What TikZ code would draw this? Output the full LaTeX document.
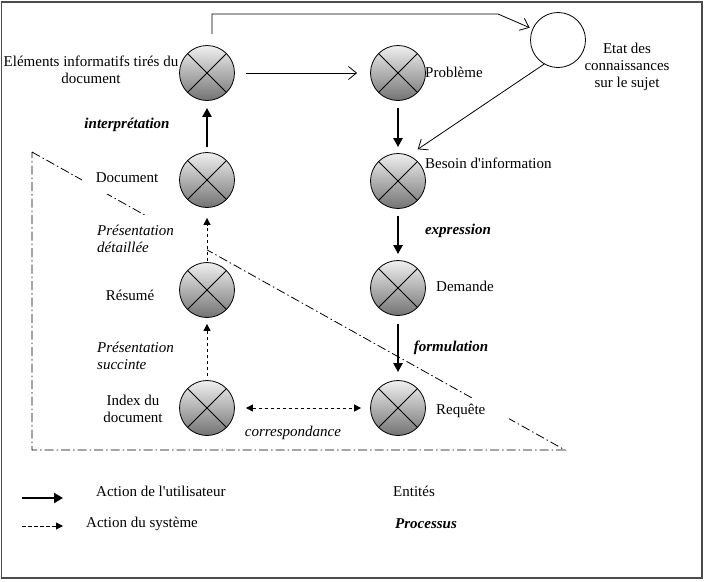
\documentclass[tikz,border=0pt]{standalone}
\usepackage{fontspec}
\setmainfont{Liberation Serif}[Ligatures=TeXOff]
\usetikzlibrary{arrows.meta,shapes.geometric}
\begin{document}
\begin{tikzpicture}[x=1pt,y=-1pt,
  ent/.style={circle,draw,line width=0.8pt,minimum size=55pt,inner sep=0pt,
     top color=white!94!black,bottom color=black!55,
     path picture={\draw[line width=0.8pt]
        (path picture bounding box.north west) -- (path picture bounding box.south east)
        (path picture bounding box.north east) -- (path picture bounding box.south west);}},
  etatc/.style={circle,draw,line width=0.8pt,minimum size=55pt,inner sep=0pt,fill=white},
  txt/.style={font=\fontsize{15}{17}\selectfont,align=center,inner sep=1pt},
  proc/.style={txt,font=\fontsize{15}{17}\selectfont\bfseries\itshape},
  legtxt/.style={font=\fontsize{15}{17}\selectfont,inner sep=0pt,anchor=west},
  userarr/.style={line width=2.6pt,-{Triangle[length=9pt,width=9pt]}},
  sysarr/.style={line width=1pt,dash pattern=on 3.5pt off 2.5pt,-{Triangle[length=7pt,width=7pt]}},
  sysboth/.style={line width=1pt,dash pattern=on 3.5pt off 2.5pt,{Triangle[length=7pt,width=7pt]}-{Triangle[length=7pt,width=7pt]}},
  openarr/.style={line width=0.8pt,-{Straight Barb[length=8pt,width=13pt]}},
  dashdot/.style={line width=0.8pt,dash pattern=on 9pt off 3pt on 1.5pt off 3pt},
  cover/.style={fill=white,inner sep=0pt}
]
\useasboundingbox (0,0) rectangle (706,581);
\draw[line width=1.5pt,black!70] (1.5,2) rectangle (702,578);

% dash-dot triangle
\coordinate (p1) at (32,152);
\coordinate (p2) at (32,450);
\coordinate (p3) at (565,450);
\draw[dashdot] (p1) -- (p3) -- (p2) -- cycle;

% white text backgrounds hiding the dash-dot line
\node[cover,minimum width=90pt,minimum height=32pt] (cdoc) at (127,178) {};
\node[cover,minimum width=112pt,minimum height=46pt] (cpd) at (151,238) {};
\node[cover,minimum width=74pt,minimum height=26pt] (creq) at (472,411) {};

% entities
\node[ent] (elem) at (207,73) {};
\node[ent] (doc) at (207,180) {};
\node[ent] (res) at (207,290) {};
\node[ent] (idx) at (207,408) {};
\node[ent] (prob) at (398,73) {};
\node[ent] (bes) at (398,181) {};
\node[ent] (dem) at (398,288) {};
\node[ent] (req) at (398,408) {};
\node[etatc] (etat) at (558,40) {};

% texts
\node[txt] (telem) at (91,70) {Eléments informatifs tirés du\\document};
\node[txt,anchor=west] (tprob) at (424,72) {Problème};
\node[txt] (tetat) at (627,67) {Etat des\\connaissances\\sur le sujet};
\node[txt,anchor=west] (tbes) at (424,163) {Besoin d'information};
\node[proc] (tinterp) at (127,125) {interprétation};
\node[txt] (tdoc) at (127,178) {Document};
\node[txt,anchor=west,align=left,font=\fontsize{15}{17}\selectfont\itshape] (tpd) at (96,239) {Présentation\\détaillée};
\node[txt] (tres) at (130,295) {Résumé};
\node[txt,anchor=west,align=left,font=\fontsize{15}{17}\selectfont\itshape] (tps) at (96,356) {Présentation\\succinte};
\node[txt] (tidx) at (133,409) {Index du\\document};
\node[txt,font=\fontsize{15}{17}\selectfont\itshape] (tcorr) at (293,433) {correspondance};
\node[proc] (texpr) at (458,231) {expression};
\node[txt,anchor=west] (tdem) at (435,286) {Demande};
\node[proc] (tform) at (451,348) {formulation};
\node[txt,anchor=west] (treq) at (435,411) {Requête};

% connectors
\coordinate (bend) at (498,14);
\draw[openarr,shorten >=3pt] ([xshift=5pt,yshift=11pt]elem.north) |- (bend) -- (etat);
\draw[openarr,shorten <=11pt,shorten >=13pt] (elem) -- (prob);
\draw[openarr] (etat.240) -- ([yshift=12pt]bes.north east);
\draw[userarr,shorten <=5pt,shorten >=7pt] (doc) -- (elem);
\draw[userarr,shorten <=7pt,shorten >=6pt] (prob) -- (bes);
\draw[userarr,shorten <=7pt,shorten >=6pt] (bes) -- (dem);
\draw[userarr,shorten <=8pt,shorten >=8pt] (dem) -- (req);
\draw[sysarr,shorten <=4pt,shorten >=6pt] (idx) -- (res);
\draw[sysarr,shorten <=1pt,shorten >=10pt] (res) -- (doc);
\draw[sysboth,shorten <=11pt,shorten >=9pt] (idx) -- (req);

% legend
\coordinate (l1a) at (22,498);
\coordinate (l1b) at (63,498);
\coordinate (l2a) at (22,526);
\coordinate (l2b) at (63,526);
\draw[line width=2.8pt,-{Triangle[length=9pt,width=10pt]}] (l1a) -- (l1b);
\draw[sysarr] (l2a) -- (l2b);
\node[legtxt] (la) at (96,491) {Action de l'utilisateur};
\node[legtxt] (lb) at (86,524) {Action du système};
\node[legtxt] (lc) at (393,491) {Entités};
\node[legtxt,font=\fontsize{15}{17}\selectfont\bfseries\itshape] (ld) at (395,524) {Processus};
\end{tikzpicture}
\end{document}
